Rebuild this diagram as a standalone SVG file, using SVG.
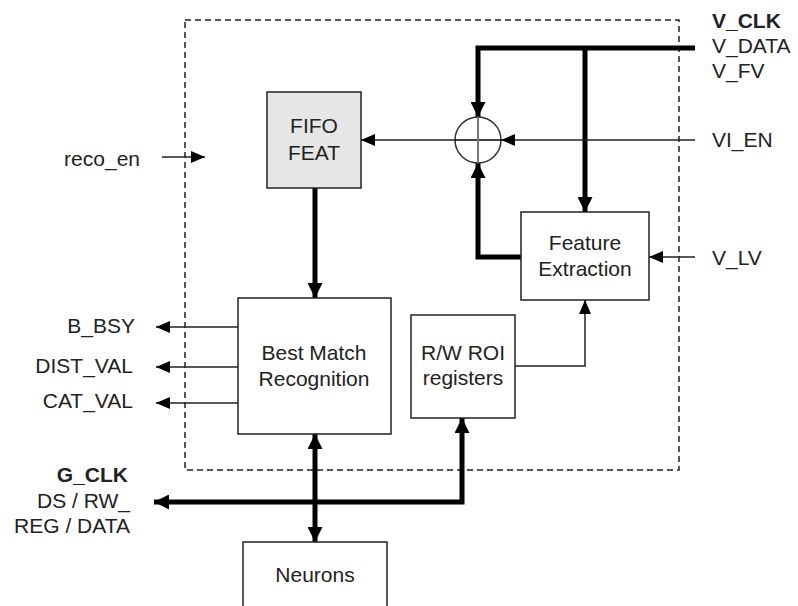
<svg xmlns="http://www.w3.org/2000/svg" width="798" height="606" viewBox="0 0 798 606">
<style>
  text { font-family: "Liberation Sans", Arial, sans-serif; font-size: 21px; fill: #222; }
  .c { text-anchor: middle; }
  .r { text-anchor: end; }
  .b { font-weight: bold; }
  .box { fill: #fff; stroke: #222; stroke-width: 1.5; }
  .thin { fill: none; stroke: #222; stroke-width: 1.5; }
  .thick { fill: none; stroke: #000; stroke-width: 5; stroke-linejoin: miter; }
</style>
<defs>
  <marker id="a" markerUnits="userSpaceOnUse" markerWidth="14" markerHeight="12" refX="14" refY="6" orient="auto">
    <path d="M0,0 L14,6 L0,12 z" fill="#000"/>
  </marker>
  <marker id="t" markerUnits="userSpaceOnUse" markerWidth="15" markerHeight="15" refX="15" refY="7.5" orient="auto-start-reverse">
    <path d="M0,0 L15,7.5 L0,15 z" fill="#000"/>
  </marker>
</defs>

<g id="boundary">
  <rect x="185" y="20" width="494" height="450" fill="none" stroke="#222" stroke-width="1.5" stroke-dasharray="6,4"/>
</g>

<g id="connectors">
  <path class="thick" d="M695,48 H478 V117" marker-end="url(#t)"/>
  <path class="thick" d="M585,48 V212" marker-end="url(#t)"/>
  <path class="thick" d="M521,257 H478 V163" marker-end="url(#t)"/>
  <path class="thin" d="M695,140 H501" marker-end="url(#a)"/>
  <path class="thin" d="M455,140 H361" marker-end="url(#a)"/>
  <path class="thin" d="M695,257 H649" stroke="#555" marker-end="url(#a)"/>
  <path class="thin" d="M515,366 H585 V300" marker-end="url(#a)"/>
  <path class="thick" d="M315,188 V298" marker-end="url(#t)"/>
  <path class="thin" d="M238,327 H156" stroke="#555" marker-end="url(#a)"/>
  <path class="thin" d="M238,367 H156" marker-end="url(#a)"/>
  <path class="thin" d="M238,403 H156" marker-end="url(#a)"/>
  <path class="thin" d="M162,157 H205" marker-end="url(#a)"/>
  <path class="thick" d="M315,434 V542" marker-start="url(#t)" marker-end="url(#t)"/>
  <path class="thick" d="M154,502 H462 V418" marker-start="url(#t)" marker-end="url(#t)"/>
</g>

<g id="adder">
  <circle cx="478" cy="140" r="23" fill="none" stroke="#333" stroke-width="1.5"/>
  <line x1="455" y1="140" x2="501" y2="140" stroke="#000" stroke-width="1.5"/>
  <line x1="478" y1="117" x2="478" y2="163" stroke="#777" stroke-width="2"/>
</g>

<g id="fifo">
  <rect x="267" y="92" width="94" height="96" fill="#e6e6e6" stroke="#222" stroke-width="1.5"/>
  <text class="c" x="314" y="133">FIFO</text>
  <text class="c" x="314" y="160">FEAT</text>
</g>

<g id="feature-extraction">
  <rect class="box" x="521" y="212" width="128" height="88"/>
  <text class="c" x="585" y="250">Feature</text>
  <text class="c" x="585" y="276">Extraction</text>
</g>

<g id="roi">
  <rect class="box" x="411" y="315" width="104" height="103"/>
  <text class="c" x="463" y="360">R/W ROI</text>
  <text class="c" x="463" y="385">registers</text>
</g>

<g id="best-match">
  <rect class="box" x="238" y="298" width="153" height="136"/>
  <text class="c" x="314" y="360">Best Match</text>
  <text class="c" x="314" y="386">Recognition</text>
</g>

<g id="neurons">
  <rect class="box" x="243" y="542" width="144" height="80"/>
  <text class="c" x="315" y="582">Neurons</text>
</g>

<g id="labels">
  <text class="b" x="712" y="28">V_CLK</text>
  <text x="712" y="53">V_DATA</text>
  <text x="712" y="78">V_FV</text>
  <text x="712" y="147">VI_EN</text>
  <text x="712" y="265">V_LV</text>
  <text class="r" x="140" y="166">reco_en</text>
  <text class="r" x="135" y="333">B_BSY</text>
  <text class="r" x="133" y="373">DIST_VAL</text>
  <text class="r" x="133" y="408">CAT_VAL</text>
  <text class="r b" x="128" y="482">G_CLK</text>
  <text class="r" x="130" y="508">DS / RW_</text>
  <text class="r" x="130" y="533">REG / DATA</text>
</g>
</svg>
